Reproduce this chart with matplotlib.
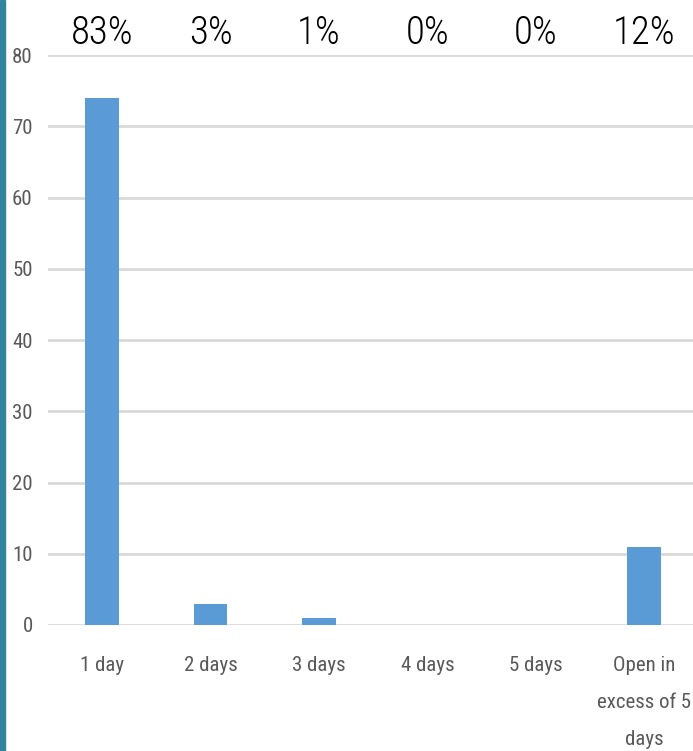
import matplotlib
matplotlib.use("Agg")
import matplotlib.pyplot as plt
from matplotlib.patches import Rectangle

categories = ["1 day", "2 days", "3 days", "4 days", "5 days", "Open in\nexcess of 5\ndays"]
counts = [74, 3, 1, 0, 0, 11]
pct_labels = ["83%", "3%", "1%", "0%", "0%", "12%"]

plt.rcParams["font.family"] = ["Roboto Condensed", "DejaVu Sans"]

fig = plt.figure(figsize=(6.93, 7.51), dpi=100)
ax = fig.add_axes([48 / 693, 126 / 751, 1 - 48 / 693, (625 - 55) / 751])

x = list(range(len(categories)))
ax.bar(x, counts, width=0.31, color="#5B9BD5", zorder=3)

ax.set_ylim(0, 80)
ax.set_xlim(-0.5, 5.45)
ax.set_yticks(range(0, 81, 10))
ax.yaxis.grid(True, color="#D9D9D9", linewidth=2, zorder=0)
for s in ax.spines.values():
    s.set_visible(False)
ax.tick_params(axis="both", length=0, labelsize=15, colors="#595959")
ax.tick_params(axis="y", pad=11)
ax.tick_params(axis="x", pad=22)
ax.set_xticks(x)
ax.set_xticklabels(categories, linespacing=2.2, va="top")

for xi, p in zip(x, pct_labels):
    ax.text(xi, 83.1, p, ha="center", va="center", fontsize=28, color="black",
            fontweight="light", clip_on=False)

# teal strip on the left edge
fig.patches.append(Rectangle((0, 0), 5 / 693, 1, transform=fig.transFigure,
                             color="#31849B", zorder=5))

plt.savefig("out.png", dpi=100)
